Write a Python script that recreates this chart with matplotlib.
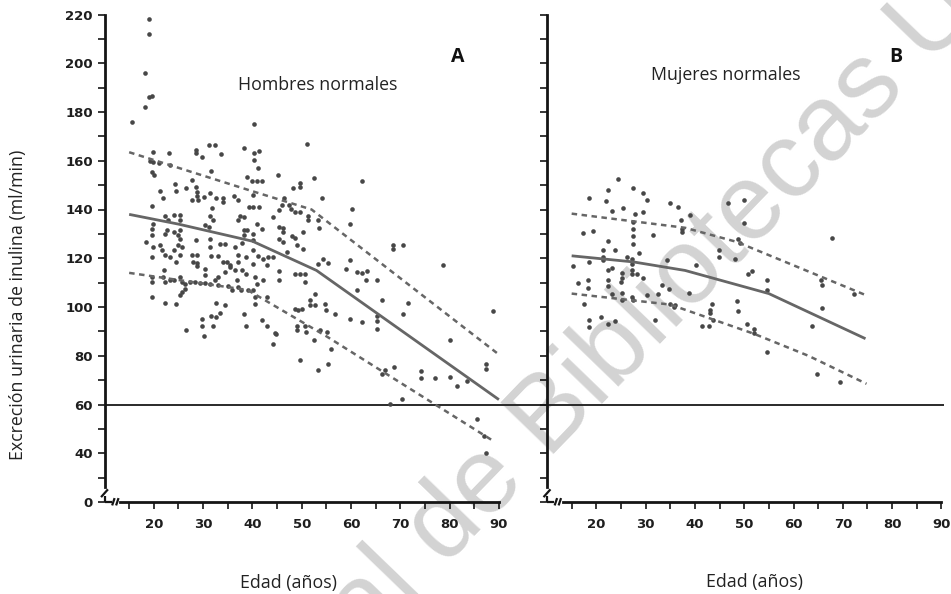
import matplotlib
matplotlib.use('Agg')
import matplotlib.pyplot as plt

# ---------------- data ----------------
men_age = [19, 19, 18.2, 19, 19.6, 18.3, 15.6, 40.4, 51,
    31.2, 32.4, 38.3, 41.3, 40.4, 40.4, 19.9, 23.1, 28.6, 28.6, 29.7, 33.6, 19.3, 19.9, 21.1, 23.3,
    19.6, 20.1, 31.6, 39.0, 39.9, 40.9, 41.9, 41.2, 27.7, 24.4, 24.5, 26.5, 28.6, 28.7, 28.8, 21.3,
    21.9, 27.8, 29.0, 30.2, 31.4, 32.6, 34.1, 34.1, 36.3, 37.1, 40.2, 39.4, 40.2, 41.3, 31.9, 19.6,
    37.5, 38.2, 37.1, 31.4, 32.1, 40.9, 41.9, 30.4, 31.2, 38.2, 39.0, 24.0, 25.3, 25.3, 22.3, 22.9,
    19.9, 19.6, 22.6, 24.0, 25.3,
    19.7, 22.3, 25.0, 25.3, 25.0, 25.7, 18.4, 19.9, 21.3, 21.6, 22.3, 23.3, 24.0, 19.6, 24.6, 25.3,
    28.6, 27.7, 28.8, 28.0, 28.8, 28.8, 30.4, 31.4, 31.4, 31.7, 33.1, 33.4, 34.4, 34.1, 34.8, 35.5,
    36.5, 37.0, 37.1, 37.8, 38.2, 40.2, 40.2, 38.8, 40.2, 41.2, 42.2, 40.2, 34.4, 35.5, 36.5, 37.8,
    38.8, 30.4, 22.1, 19.6, 19.6, 21.9, 22.3, 23.3, 24.0, 25.3, 25.7, 26.3, 27.3, 28.4, 29.4, 30.4,
    31.4, 32.4, 33.1, 33.1, 35.1, 35.8, 36.8, 37.1, 37.6, 39.2, 40.2, 40.5, 40.9, 42.2, 26.3, 25.7,
    25.3, 40.5, 40.5, 19.6, 22.3, 24.6, 32.6, 34.4, 33.4, 32.6, 31.7, 38.2, 29.7, 29.7, 32.1, 26.5,
    30.2, 38.8, 41.9, 42.9, 42.9,
    44.1, 44.8, 48.6, 49.0, 49.0, 49.7, 50.7, 50.9, 51.7, 52.4, 53.4,
    45.1, 52.4, 62.2, 48.2, 49.7, 49.7, 54.1, 46.4, 45.3, 46.0, 47.5, 47.9, 48.6, 49.7, 60.3, 44.2,
    51.3, 51.3, 53.4, 45.3, 46.3, 46.3, 53.6, 59.7, 50.3, 48.0, 48.6, 45.3,
    46.3, 49.0, 50.3, 43.2, 44.2, 42.9, 47.0, 53.4, 54.4, 55.4, 59.7, 59.0, 68.6, 68.6, 70.6, 78.7,
    45.3, 45.3, 48.6, 49.7, 50.7, 50.7, 61.2, 62.2, 63.2, 63.0, 65.2, 61.3, 66.2, 71.6, 70.6, 52.7,
    51.7, 52.7, 54.7, 54.9, 56.8, 49.3, 50.0, 59.7, 62.2, 65.2, 65.2, 65.2, 88.9, 44.6, 53.7, 55.1,
    55.9, 55.4, 80.1, 87.4, 87.4, 66.2, 68.7, 66.9, 74.1, 74.1, 77.0, 80.1, 81.4, 83.5, 67.9, 70.3,
    85.6, 87.0, 87.4]
men_gfr = [218, 212, 196, 186, 186.5, 182, 176, 175, 167,
    166.6, 166.6, 165.3, 164, 163, 160.5, 163.6, 163, 164.6, 163, 161.6, 162.7, 160, 159.6, 159.2, 158.3,
    155.4, 154, 155.8, 153.3, 151.6, 151.6, 151.6, 157.2, 152.3, 150.3, 147.6, 149, 149.2, 147.2, 145.4, 147.4,
    144.9, 143.8, 144.1, 145.1, 146.8, 144.9, 144.9, 143.1, 145.5, 144.1, 145.8, 141, 141, 141, 140.8, 141.3,
    137.2, 136.9, 135.6, 137.2, 135.6, 133.9, 132.2, 133.5, 132.8, 131.5, 131.7, 137.6, 137.6, 135.6, 137.2, 135.6,
    134.2, 132.2, 131.5, 130.8, 131.5,
    129.5, 129.8, 129.5, 128, 125.3, 124.6, 126.7, 124.6, 125.3, 123.2, 121.2, 120.5, 123.2, 120.5, 118.4, 121.2,
    127.6, 121.2, 121.2, 118.4, 118.0, 116.7, 115.7, 128, 124.6, 120.8, 120.8, 126, 125.7, 118.4, 118.4, 117.1,
    124.6, 121.2, 118.4, 126.2, 129.4, 130.1, 127.4, 120.5, 117.8, 120.8, 119.8, 123.2, 114.3, 116.4, 115, 115,
    113.7, 113, 115.3, 112.3, 110.2, 112.3, 110.2, 110.9, 111.2, 112.3, 110.2, 109.3, 110.2, 110.2, 109.8, 109.8,
    109.6, 110.9, 112.3, 108.9, 108.5, 107.1, 110.9, 108.2, 107.1, 107.1, 106.8, 112.3, 109.6, 110.9, 107.5, 106.1,
    104.8, 104.1, 101.4, 104.1, 101.6, 101.1, 101.6, 100.7, 97.5, 96.1, 96.5, 97.2, 95.2, 92.4, 92.4, 90.4,
    87.9, 92.4, 94.5, 92.4, 104.1,
    84.9, 89, 99.3, 92.4, 90.4, 78.1, 92.4, 89.7, 100.7, 86.3, 74,
    154, 152.9, 151.7, 148.8, 151, 149.2, 144.9, 144.7, 140, 142, 141.7, 140.1, 139, 139, 140.1, 136.9,
    137.2, 135.8, 135.6, 132.8, 132.6, 130.8, 132.6, 133.9, 130.8, 129, 128.5, 128,
    126.7, 125.3, 123.9, 120.5, 120.5, 117.1, 122.5, 117.8, 119.8, 118.0, 119.4, 115.7, 125.3, 123.9, 125.3, 117.4,
    110.9, 114.7, 113.7, 113.7, 113.7, 110.2, 114.3, 113.9, 114.7, 111.2, 111.2, 107.1, 103, 101.6, 97.0, 105.5,
    102.7, 100.7, 101.4, 98.9, 97, 98.9, 99.3, 95.2, 93.8, 96.5, 94.2, 91.1, 98.3, 89.3, 90.4, 89.7,
    82.9, 76.7, 86.6, 76.7, 74.4, 72.6, 75.3, 74, 73.7, 71, 71, 71.2, 67.5, 69.6, 60.3, 62.3,
    54.1, 46.9, 40.0]

women_age = [24.5, 22.4, 27.4, 29.5, 30.2, 18.6, 22.0, 25.4, 23.1, 27.8, 29.5, 35.0, 36.6, 17.4, 19.4,
    27.5, 27.5, 27.5, 27.5, 31.6, 22.4, 21.4, 23.7, 28.7, 21.4, 21.4, 18.6, 15.3, 26.2, 27.2, 27.2,
    34.3, 23.1, 22.4, 27.2, 27.2, 28.2, 29.5, 25.2, 25.2, 25.0, 16.3, 18.4, 18.4, 22.4, 22.4, 23.1,
    25.2, 27.2, 30.2, 32.6, 33.3, 34.7, 25.2, 27.5, 36.0, 17.6, 18.6, 18.6, 21.0, 22.4, 23.7, 31.9,
    37.1, 39.1, 37.3, 37.3, 46.8, 50.0, 50.0, 48.8, 49.1, 44.9, 44.9, 48.1, 40.2, 51.5, 50.8, 54.7,
    54.7, 38.9, 35.0, 35.7, 43.4, 43.1, 43.1, 48.5, 48.8, 43.7, 41.4, 42.9, 50.5, 51.9, 51.9, 54.6,
    63.7, 65.7, 64.8, 69.4, 67.9, 65.5, 65.8, 72.2]
women_gfr = [152.4, 148.2, 148.8, 146.8, 143.8, 144.7, 143.4, 140.6, 139.3, 138.3, 139, 142.7, 141, 130.3, 131,
    134.9, 132.2, 129, 126, 129.4, 127.1, 123.5, 123.2, 122.1, 120.5, 119.1, 118.4, 116.7, 120.5, 119.8, 117.8,
    119.4, 116.1, 115, 115.3, 113.7, 113.7, 112, 113.9, 112, 110.2, 109.8, 111.2, 107.9, 111.2, 108.5, 105.5,
    105.7, 104.1, 104.8, 105.5, 108.9, 107.5, 102.7, 103, 100.7, 101.1, 94.5, 92, 95.9, 93.1, 94.1, 94.8,
    135.6, 137.6, 132.2, 130.8, 142.7, 143.8, 134.5, 128, 126.2, 123.5, 120.5, 119.8, 117.1, 114.7, 113.4, 111.2,
    106.8, 105.7, 101.4, 100.2, 101.1, 98.9, 97.5, 102.4, 98.3, 94.5, 92.4, 92.4, 93.1, 91.1, 89.3, 81.5,
    92.4, 99.7, 72.6, 69.2, 128.5, 110.9, 108.9, 105.5]

men_mean_x = [15, 25, 40, 53, 90]
men_mean_y = [138, 134, 127, 115, 62]
men_upper_x = [15, 40, 52, 90]
men_upper_y = [163.5, 147.5, 140, 80.5]
men_lower_x = [15, 39, 55, 88.5]
men_lower_y = [114, 107, 88, 45.5]

women_mean_x = [15, 27.5, 38, 55, 74.6]
women_mean_y = [121, 118.5, 115, 105.5, 87]
women_upper_x = [15, 38, 48.5, 74.5]
women_upper_y = [138.3, 132.5, 126.7, 105]
women_lower_x = [15, 35, 52, 63, 74.8]
women_lower_y = [105.5, 101, 89, 80, 68.5]

threshold = 60
y_ticks = [20, 40, 60, 80, 100, 120, 140, 160, 180, 200, 220]
y_ticklabels = ['0', '40', '60', '80', '100', '120', '140', '160', '180', '200', '220']
y_minor = [30, 50, 70, 90, 110, 130, 150, 170, 190, 210]
x_ticks = [20, 30, 40, 50, 60, 70, 80, 90]
x_minor = [15, 25, 35, 45, 55, 65, 75, 85]

# ---------------- styling ----------------
W, H = 951, 594
fig = plt.figure(figsize=(W / 100, H / 100), dpi=100)
TEXT_FONT = ['Open Sans', 'DejaVu Sans']
TICK_FONT = ['DejaVu Sans']
DOT = '#474747'
LINE = '#666666'
AX = '#151515'
TXT = 12.8

# watermark (behind everything)
fig.text(366 / W, 1 - 648 / H, 'al de Bibliotecas U', rotation=46, rotation_mode='anchor',
         ha='left', va='baseline', fontsize=77, color='#d3d3d3',
         family=['Liberation Sans', 'DejaVu Sans'], zorder=-5)

def px_axes(x0, x1, y0, y1):
    return fig.add_axes([x0 / W, 1 - y1 / H, (x1 - x0) / W, (y1 - y0) / H])

axL = px_axes(104.5, 548.2, 14.5, 502)
axR = px_axes(547.0, 943.9, 14.5, 502)
axL.set_xlim(10, 100)
axR.set_xlim(10, 90.5)

for ax in (axL, axR):
    ax.patch.set_alpha(0)
    ax.set_ylim(20, 220)
    for s in ('top', 'right'):
        ax.spines[s].set_visible(False)
    for s in ('left', 'bottom'):
        ax.spines[s].set_color(AX)
        ax.spines[s].set_linewidth(2.0)
    ax.spines['left'].set_bounds(26, 220)
    ax.spines['bottom'].set_bounds(13.2, 90)
    ax.set_yticks(y_ticks)
    ax.set_yticks(y_minor, minor=True)
    ax.set_xticks(x_ticks)
    ax.set_xticks(x_minor, minor=True)
    ax.tick_params(which='both', direction='out', length=5, width=1.2, color=AX)
    ax.tick_params(axis='x', which='major', pad=6.5)
    ax.tick_params(axis='y', which='major', pad=3.5)
    ax.set_xticklabels([str(v) for v in x_ticks], family=TICK_FONT, fontweight='bold',
                       fontsize=9.5, color='#1e1e1e')
    # broken-axis decorations
    kw = dict(color=AX, lw=1.6, clip_on=False, solid_capstyle='butt')
    ax.plot([10, 10], [20, 22.6], **kw)
    ax.plot([9.3, 10.7], [22.0, 25.2], **kw)
    ax.plot([10, 11.5], [20, 20], **kw)
    ax.plot([11.55, 12.05], [18.6, 21.6], **kw)
    ax.plot([12.35, 12.85], [18.6, 21.6], **kw)
    ax.axhline(threshold, color='#2a2a2a', lw=1.4, zorder=2)

axL.set_yticklabels(y_ticklabels, family=TICK_FONT, fontweight='bold', fontsize=9.5, color='#1e1e1e')
axR.set_yticklabels([])

# scatter
axL.scatter(men_age, men_gfr, s=11, color=DOT, linewidths=0, zorder=3)
axR.scatter(women_age, women_gfr, s=11, color=DOT, linewidths=0, zorder=3)

# regression and bands
for ax, mx, my, ux, uy, lx, ly in (
        (axL, men_mean_x, men_mean_y, men_upper_x, men_upper_y, men_lower_x, men_lower_y),
        (axR, women_mean_x, women_mean_y, women_upper_x, women_upper_y, women_lower_x, women_lower_y)):
    ax.plot(mx, my, color=LINE, lw=2.0, zorder=4, solid_capstyle='butt')
    ax.plot(ux, uy, color=LINE, lw=1.8, ls=(0, (2.2, 1.8)), zorder=4)
    ax.plot(lx, ly, color=LINE, lw=1.8, ls=(0, (2.2, 1.8)), zorder=4)

# texts
fig.text(318 / W, 1 - 85 / H, 'Hombres normales', ha='center', va='center', fontsize=TXT,
         family=TEXT_FONT, color='#222222')
fig.text(726 / W, 1 - 75 / H, 'Mujeres normales', ha='center', va='center', fontsize=TXT,
         family=TEXT_FONT, color='#222222')
fig.text(458 / W, 1 - 57 / H, 'A', ha='center', va='center', fontsize=14, fontweight='bold',
         family=TEXT_FONT, color='#111111')
fig.text(896 / W, 1 - 57 / H, 'B', ha='center', va='center', fontsize=14, fontweight='bold',
         family=TEXT_FONT, color='#111111')
fig.text(288 / W, 1 - 583 / H, 'Edad (años)', ha='center', va='center', fontsize=TXT,
         family=TEXT_FONT, color='#222222')
fig.text(755 / W, 1 - 582 / H, 'Edad (años)', ha='center', va='center', fontsize=TXT,
         family=TEXT_FONT, color='#222222')
fig.text(18 / W, 1 - 305 / H, 'Excreción urinaria de inulina (ml/min)', ha='center', va='center',
         rotation=90, fontsize=TXT, family=TEXT_FONT, color='#222222')

fig.savefig('out.png', dpi=100)
